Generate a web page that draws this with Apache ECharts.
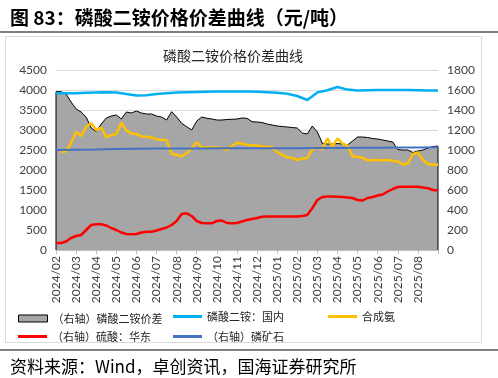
<!DOCTYPE html>
<html>
<head>
<meta charset="utf-8">
<script src="https://cdn.jsdelivr.net/npm/echarts@6/dist/echarts.min.js"></script>
<style>
  html, body { margin: 0; padding: 0; background: #fff; }
  #chart { width: 498px; height: 378px; }
</style>
</head>
<body>
<div id="chart"></div>
<script>
// 月份刻度（每月 4 个点，第 0 个点 = 2024/02 月初）
const monthLabels = ['2024/02', '2024/03', '2024/04', '2024/05', '2024/06', '2024/07', '2024/08',
    '2024/09', '2024/10', '2024/11', '2024/12', '2025/01', '2025/02', '2025/03', '2025/04',
    '2025/05', '2025/06', '2025/07', '2025/08'];

// 磷酸二铵价差（右轴），每 1/4 月一个点
const spreadValues = [1583, 1583, 1560, 1480, 1410, 1380, 1330, 1220, 1185, 1260,
    1320, 1340, 1350, 1310, 1380, 1370, 1390, 1370, 1360, 1360,
    1340, 1330, 1300, 1383, 1330, 1267, 1233, 1200, 1290, 1330,
    1317, 1310, 1300, 1300, 1305, 1307, 1310, 1320, 1317, 1283,
    1280, 1275, 1260, 1250, 1240, 1235, 1230, 1225, 1220, 1170,
    1160, 1240, 1180, 1067, 1060, 1060, 1065, 1060, 1050, 1090,
    1130, 1130, 1125, 1115, 1110, 1100, 1090, 1080, 1005, 1000,
    1000, 975, 990, 1000, 1020, 1035, 1040];

// 磷酸二铵：国内（左轴），每 1/2 月一个点
const dapValues = [3920, 3920, 3920, 3930, 3940, 3945, 3940, 3900, 3865, 3870,
    3900, 3920, 3935, 3945, 3950, 3955, 3960, 3962, 3962, 3960,
    3955, 3945, 3930, 3905, 3850, 3750, 3940, 3995, 4075, 4010,
    3985, 3995, 4000, 4000, 4000, 4000, 3995, 3990, 3990];

// 合成氨（左轴），每 1/4 月一个点
const ammoniaValues = [null, 2450, 2470, 2680, 2950, 2850, 3080, 3170, 3000, 3060,
    2820, 2870, 2900, 3180, 2990, 2910, 2900, 2840, 2830, 2810,
    2770, 2750, 2750, 2400, 2380, 2340, 2420, 2550, 2700, 2560,
    2570, 2560, 2560, 2550, 2500, 2600, 2680, 2660, 2625, 2620,
    2610, 2590, 2580, 2560, 2450, 2380, 2320, 2300, 2250, 2280,
    2300, 2520, 2560, 2520, 2790, 2580, 2790, 2660, 2610, 2340,
    2330, 2300, 2240, 2250, 2250, 2240, 2250, 2230, 2210, 2140,
    2160, 2400, 2440, 2250, 2150, 2130, 2130];

// 硫酸：华东（右轴），每 1/4 月一个点
const acidValues = [70, 70, 85, 120, 140, 150, 200, 250, 257, 257,
    245, 220, 200, 175, 160, 157, 160, 175, 183, 183,
    195, 210, 225, 250, 290, 360, 367, 340, 290, 270,
    267, 267, 290, 295, 270, 267, 270, 285, 300, 310,
    320, 333, 335, 335, 335, 335, 335, 335, 335, 340,
    350, 420, 500, 530, 535, 535, 533, 530, 525, 520,
    500, 495, 520, 530, 545, 555, 585, 610, 630, 633,
    633, 633, 633, 625, 617, 600, 595];

// 磷矿石（右轴），每月一个点
const rockValues = [1000, 1003, 1006, 1010, 1012, 1014, 1015, 1016, 1017, 1018,
    1018, 1018, 1018, 1020, 1020, 1022, 1022, 1024, 1026, 1028];

// 类目轴：每 1/4 月一个类目
const slots = spreadValues.map(function(v, i) { return 'q' + i; });
const lastSlot = slots.length - 1;

function pts(values, every) {
    return values.map(function(v, i) { return [i * every, v]; });
}

const chart = echarts.init(document.getElementById('chart'));
const cjk = '"Noto Sans CJK SC", sans-serif';
const num = 'Lato, "Liberation Sans", sans-serif';

const legendBase = {
    orient: 'horizontal',
    itemWidth: 29,
    itemHeight: 3,
    icon: 'rect',
    textStyle: { fontFamily: cjk, fontSize: 11, color: '#262626' },
    selectedMode: false
};

chart.setOption({
    animation: false,
    title: [
        {
            text: '图 83：磷酸二铵价格价差曲线（元/吨）',
            left: 5, top: 3,
            textStyle: { fontFamily: cjk, fontSize: 19, fontWeight: 'bold', color: '#000' }
        },
        {
            text: '磷酸二铵价格价差曲线',
            left: 228, top: 44, textAlign: 'center',
            textStyle: { fontFamily: cjk, fontSize: 14, fontWeight: 'normal', color: '#262626' }
        },
        {
            text: '资料来源：Wind，卓创资讯，国海证券研究所',
            left: 5, top: 353,
            textStyle: { fontFamily: cjk, fontSize: 17, fontWeight: 'normal', color: '#000' }
        }
    ],
    graphic: [
        { type: 'rect', shape: { x: 0, y: 31, width: 498, height: 2 }, style: { fill: '#7f7f7f' } },
        { type: 'rect', shape: { x: 5.5, y: 36.5, width: 476, height: 306 }, style: { fill: 'none', stroke: '#d9d9d9', lineWidth: 1 } },
        { type: 'rect', shape: { x: 0, y: 349, width: 498, height: 2 }, style: { fill: '#7f7f7f' } }
    ],
    legend: [
        Object.assign({}, legendBase, { left: 13, top: 308, itemHeight: 7,
            data: [{ name: '（右轴）磷酸二铵价差', itemStyle: { color: '#a6a6a6', borderColor: '#000', borderWidth: 1 } }] }),
        Object.assign({}, legendBase, { left: 168, top: 306, data: ['磷酸二铵：国内'] }),
        Object.assign({}, legendBase, { left: 323, top: 306, data: ['合成氨'] }),
        Object.assign({}, legendBase, { left: 13, top: 326, data: ['（右轴）硫酸：华东'] }),
        Object.assign({}, legendBase, { left: 168, top: 326, data: ['（右轴）磷矿石'] })
    ],
    grid: { left: 56, right: 60, top: 70, bottom: 128 },
    xAxis: {
        type: 'category',
        data: slots,
        boundaryGap: false,
        axisLine: { show: true, onZero: false, lineStyle: { color: '#bfbfbf' } },
        axisTick: {
            show: true, length: 4, lineStyle: { color: '#bfbfbf' },
            interval: function(i) { return i % 4 === 0; }
        },
        splitLine: { show: false },
        axisLabel: {
            rotate: 90, margin: 6,
            interval: function(i) { return i % 4 === 0; },
            fontFamily: num, fontSize: 12, color: '#404040',
            formatter: function(v, i) { return monthLabels[i / 4] || ''; }
        }
    },
    yAxis: [
        {
            type: 'value', min: 0, max: 4500, interval: 500,
            axisLine: { show: false }, axisTick: { show: false },
            splitLine: { lineStyle: { color: '#d9d9d9' } },
            axisLabel: { fontFamily: num, fontSize: 12, color: '#404040', margin: 9,
                formatter: function(v) { return String(v); } }
        },
        {
            type: 'value', min: 0, max: 1800, interval: 200,
            axisLine: { show: false }, axisTick: { show: false },
            splitLine: { show: false },
            axisLabel: { fontFamily: num, fontSize: 12, color: '#404040', margin: 9,
                formatter: function(v) { return String(v); } }
        }
    ],
    series: [
        {
            name: '（右轴）磷酸二铵价差',
            type: 'line', yAxisIndex: 1,
            data: [[0, 0]].concat(pts(spreadValues, 1), [[lastSlot, 0]]),
            showSymbol: false, symbol: 'none',
            color: '#a6a6a6',
            lineStyle: { color: '#000', width: 1 },
            areaStyle: { color: '#a6a6a6', opacity: 1 },
            z: 1
        },
        {
            name: '磷酸二铵：国内',
            type: 'line', yAxisIndex: 0,
            data: pts(dapValues, 2),
            showSymbol: false, symbol: 'none',
            color: '#00b0f0',
            lineStyle: { width: 2.5 },
            z: 2
        },
        {
            name: '合成氨',
            type: 'line', yAxisIndex: 0,
            data: pts(ammoniaValues, 1),
            showSymbol: false, symbol: 'none',
            color: '#ffc000',
            lineStyle: { width: 2.5 },
            z: 3
        },
        {
            name: '（右轴）硫酸：华东',
            type: 'line', yAxisIndex: 1,
            data: pts(acidValues, 1),
            showSymbol: false, symbol: 'none',
            color: '#ff0000',
            lineStyle: { width: 2.5 },
            z: 4
        },
        {
            name: '（右轴）磷矿石',
            type: 'line', yAxisIndex: 1,
            data: pts(rockValues, 4),
            showSymbol: false, symbol: 'none',
            color: '#4472c4',
            lineStyle: { width: 2 },
            z: 5
        }
    ]
});

window.addEventListener('resize', function() {
    chart.resize();
});
</script>
</body>
</html>
